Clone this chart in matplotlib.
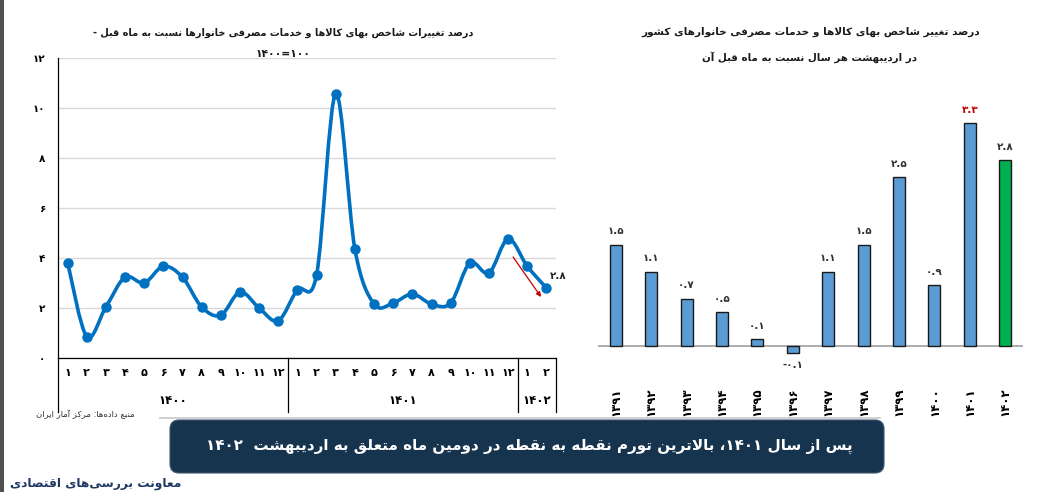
import re
import numpy as np
import matplotlib
matplotlib.use("Agg")
import matplotlib.pyplot as plt
from matplotlib.path import Path
from matplotlib.patches import PathPatch, FancyBboxPatch, Rectangle

# ---------------- data ----------------
year_groups = ["1400", "1401", "1402"]
months_per_group = [12, 12, 2]
monthly_change = [3.82, 0.86, 2.04, 3.23, 3.00, 3.67, 3.23, 2.04, 1.71, 2.64, 2.00, 1.49,
                  2.73, 3.33, 10.57, 4.36, 2.16, 2.20, 2.56, 2.16, 2.20, 3.80, 3.40, 4.76,
                  3.67, 2.80]
left_yticks = [0, 2, 4, 6, 8, 10, 12]

bar_years = ["1391", "1392", "1393", "1394", "1395", "1396",
             "1397", "1398", "1399", "1400", "1401", "1402"]
bar_values = [1.5, 1.1, 0.7, 0.5, 0.1, -0.1, 1.1, 1.5, 2.5, 0.9, 3.3, 2.75]

title_left_1 = "درصد تغییرات شاخص بهای کالاها و خدمات مصرفی خانوارها نسبت به ماه قبل -"
title_left_2 = "1400=100"
title_right_1 = "درصد تغییر شاخص بهای کالاها و خدمات مصرفی خانوارهای کشور"
title_right_2 = "در اردیبهشت هر سال نسبت به ماه قبل آن"
source_text = "منبع داده\u200cها: مرکز آمار ایران"
box_text = "پس از سال 1401، بالاترین تورم نقطه به نقطه در دومین ماه متعلق به اردیبهشت  1402"
org_text = "معاونت بررسی\u200cهای اقتصادی"

# ---------------- Persian text helpers ----------------
FA_DIGITS = str.maketrans("0123456789", "۰۱۲۳۴۵۶۷۸۹")


def fa(s):
    return str(s).translate(FA_DIGITS)


FORMS = {
    'ا': (0xFE8D, 2), 'آ': (0xFE81, 2), 'ب': (0xFE8F, 4), 'پ': (0xFB56, 4),
    'ت': (0xFE95, 4), 'ث': (0xFE99, 4), 'ج': (0xFE9D, 4), 'چ': (0xFB7A, 4),
    'ح': (0xFEA1, 4), 'خ': (0xFEA5, 4), 'د': (0xFEA9, 2), 'ذ': (0xFEAB, 2),
    'ر': (0xFEAD, 2), 'ز': (0xFEAF, 2), 'ژ': (0xFB8A, 2), 'س': (0xFEB1, 4),
    'ش': (0xFEB5, 4), 'ص': (0xFEB9, 4), 'ض': (0xFEBD, 4), 'ط': (0xFEC1, 4),
    'ظ': (0xFEC5, 4), 'ع': (0xFEC9, 4), 'غ': (0xFECD, 4), 'ف': (0xFED1, 4),
    'ق': (0xFED5, 4), 'ک': (0xFB8E, 4), 'گ': (0xFB92, 4), 'ل': (0xFEDD, 4),
    'م': (0xFEE1, 4), 'ن': (0xFEE5, 4), 'ه': (0xFEE9, 4), 'و': (0xFEED, 2),
    'ی': (0xFBFC, 4),
}
LAM_ALEF = {'ا': 0xFEFB, 'آ': 0xFEF5}


def _dual(c):
    return c in FORMS and FORMS[c][1] == 4


def shape(s):
    out = []
    n = len(s)
    i = 0
    while i < n:
        c = s[i]
        if c not in FORMS:
            if c != '\u200c':
                out.append(c)
            i += 1
            continue
        prev = s[i - 1] if i > 0 else None
        p = prev is not None and _dual(prev)
        if c == 'ل' and i + 1 < n and s[i + 1] in LAM_ALEF:
            out.append(chr(LAM_ALEF[s[i + 1]] + (1 if p else 0)))
            i += 2
            continue
        nxt = s[i + 1] if i + 1 < n else None
        q = _dual(c) and nxt is not None and nxt in FORMS
        base, _ = FORMS[c]
        f = 3 if (p and q) else 2 if q else 1 if p else 0
        out.append(chr(base + f))
        i += 1
    return ''.join(out)


def rtl(s):
    s = shape(fa(s))
    tokens = re.findall(r'[۰-۹]+(?:[.=][۰-۹]+)*|.', s)
    return ''.join(reversed(tokens))


# ---------------- figure ----------------
W, H, DPI = 1042, 492, 100
plt.rcParams['font.family'] = ['DejaVu Sans']
fig = plt.figure(figsize=(W / DPI, H / DPI), dpi=DPI)
fig.patch.set_facecolor('white')

# overlay axes in pixel coordinates
ov = fig.add_axes([0, 0, 1, 1])
ov.set_xlim(0, W)
ov.set_ylim(H, 0)
ov.axis('off')

renderer = fig.canvas.get_renderer()


def fit_text(x, y, s, width, **kw):
    t = ov.text(x, y, s, **kw)
    fs = t.get_fontsize()
    w = t.get_window_extent(renderer=renderer).width
    if w > 0:
        t.set_fontsize(fs * width / w)
    return t


# left edge strip
ov.add_patch(Rectangle((0, 0), 4, H, color='#505050', lw=0))

# ---------------- left line chart ----------------
ax1 = fig.add_axes([58 / W, 1 - 358 / H, 498 / W, 300 / H])
n = len(monthly_change)
xs = np.arange(n)
ax1.set_xlim(-0.5, n - 0.5)
ax1.set_ylim(0, 12)
ax1.set_yticks(left_yticks)
ax1.set_yticklabels([fa(v) for v in left_yticks], fontsize=7.5, fontweight='bold')
ax1.tick_params(axis='y', length=0, pad=9)
ax1.set_xticks([])
ax1.grid(axis='y', color='#d9d9d9', lw=1)
ax1.set_axisbelow(True)
for sp in ['top', 'right']:
    ax1.spines[sp].set_visible(False)
ax1.spines['left'].set_color('black')
ax1.spines['bottom'].set_color('black')
ax1.spines['left'].set_linewidth(0.9)
ax1.spines['bottom'].set_linewidth(0.9)

# smoothed line through the data points
P = np.column_stack([xs, monthly_change]).astype(float)
verts = [P[0]]
codes = [Path.MOVETO]
for i in range(n - 1):
    p0 = P[i - 1] if i > 0 else P[i]
    p1, p2 = P[i], P[i + 1]
    p3 = P[i + 2] if i + 2 < n else P[i + 1]
    verts += [p1 + (p2 - p0) / 6.0, p2 - (p3 - p1) / 6.0, p2]
    codes += [Path.CURVE4] * 3
ax1.add_patch(PathPatch(Path(verts, codes), fill=False, edgecolor='#0070C0', lw=2.6,
                        capstyle='round', joinstyle='round', zorder=3))
ax1.plot(xs, monthly_change, 'o', color='#0070C0', ms=6.5, zorder=4)

# last value label and red arrow
ax1.annotate(fa(f"{monthly_change[-1]:.1f}"), xy=(xs[-1], monthly_change[-1]),
             xytext=(2.5, 8.5), textcoords='offset points', ha='left', va='center',
             fontsize=7.5, fontweight='bold', color='#262626', annotation_clip=False)
ax1.annotate('', xy=(n - 1.28, monthly_change[-1] - 0.36),
             xytext=(n - 2.74, monthly_change[-2] + 0.37),
             arrowprops=dict(arrowstyle='-|>', color='#C00000', lw=0.9,
                             mutation_scale=7, shrinkA=0, shrinkB=0))

# multi-level category axis
xt = ax1.get_xaxis_transform()
pos = 0
bounds = [-0.5]
for g, m in zip(year_groups, months_per_group):
    for k in range(m):
        ax1.text(pos + k, -0.05, fa(k + 1), transform=xt, ha='center', va='center',
                 fontsize=8, fontweight='bold', clip_on=False)
    ax1.text(pos + (m - 1) / 2, -0.14, fa(g), transform=xt, ha='center', va='center',
             fontsize=8.5, fontweight='bold', clip_on=False)
    pos += m
    bounds.append(pos - 0.5)
for b in bounds:
    ax1.plot([b, b], [0, -0.18], transform=xt, color='black', lw=0.9, clip_on=False)

# ---------------- right bar chart ----------------
ax2 = fig.add_axes([598 / W, 1 - 379.8 / H, 425 / W, (379.8 - 102.6) / H])
nb = len(bar_values)
bx = np.arange(nb)
ax2.set_xlim(-0.5, nb - 0.5)
ax2.set_ylim(-0.5, 3.6)
ax2.axis('off')
colors = ['#5B9BD5'] * (nb - 1) + ['#00B050']
ax2.bar(bx, bar_values, width=0.34, color=colors, edgecolor='#1a1a1a', lw=1.0, zorder=3)
ax2.axhline(0, color='#a6a6a6', lw=1.3, zorder=2)
imax = int(np.argmax(bar_values))
for i, v in enumerate(bar_values):
    lab = fa(f"{v:.1f}")
    off = 9.5 if v >= 0 else -9
    ax2.annotate(lab, xy=(i, v), xytext=(0, off), textcoords='offset points',
                 ha='center', va='center', fontsize=7.5, fontweight='bold',
                 color='#C00000' if i == imax else '#333333')
    ax2.text(i, -0.026, fa(bar_years[i]), transform=ax2.get_xaxis_transform(),
             rotation=90, ha='center', va='top', fontsize=8.5, fontweight='bold',
             clip_on=False)

# ---------------- titles and annotations ----------------
fit_text(283, 33, rtl(title_left_1), 383, ha='center', va='center',
         fontsize=8, fontweight='bold', color='#1a1a1a')
fit_text(283, 54, fa(title_left_2), 55, ha='center', va='center',
         fontsize=8, fontweight='bold', color='#1a1a1a')
fit_text(811, 32, rtl(title_right_1), 338, ha='center', va='center',
         fontsize=8, fontweight='bold', color='#1a1a1a')
fit_text(810, 57, rtl(title_right_2), 215, ha='center', va='center',
         fontsize=8, fontweight='bold', color='#1a1a1a')
fit_text(135, 414, rtl(source_text), 99, ha='right', va='center',
         fontsize=6, color='#333333')

# bottom box
ov.plot([160, 880], [417.5, 417.5], color='#c8c8c8', lw=1.2)
ov.add_patch(FancyBboxPatch((170, 420), 714, 53,
                            boxstyle='round,pad=0,rounding_size=9',
                            facecolor='#17344F', edgecolor='#3d5670', lw=0.8))
fit_text(529, 446, rtl(box_text), 645, ha='center', va='center',
         fontsize=12, fontweight='bold', color='white')
fit_text(10, 484, rtl(org_text), 173, ha='left', va='center',
         fontsize=10, fontweight='bold', color='#1F3864')

fig.savefig('out.png', dpi=DPI, facecolor='white')
